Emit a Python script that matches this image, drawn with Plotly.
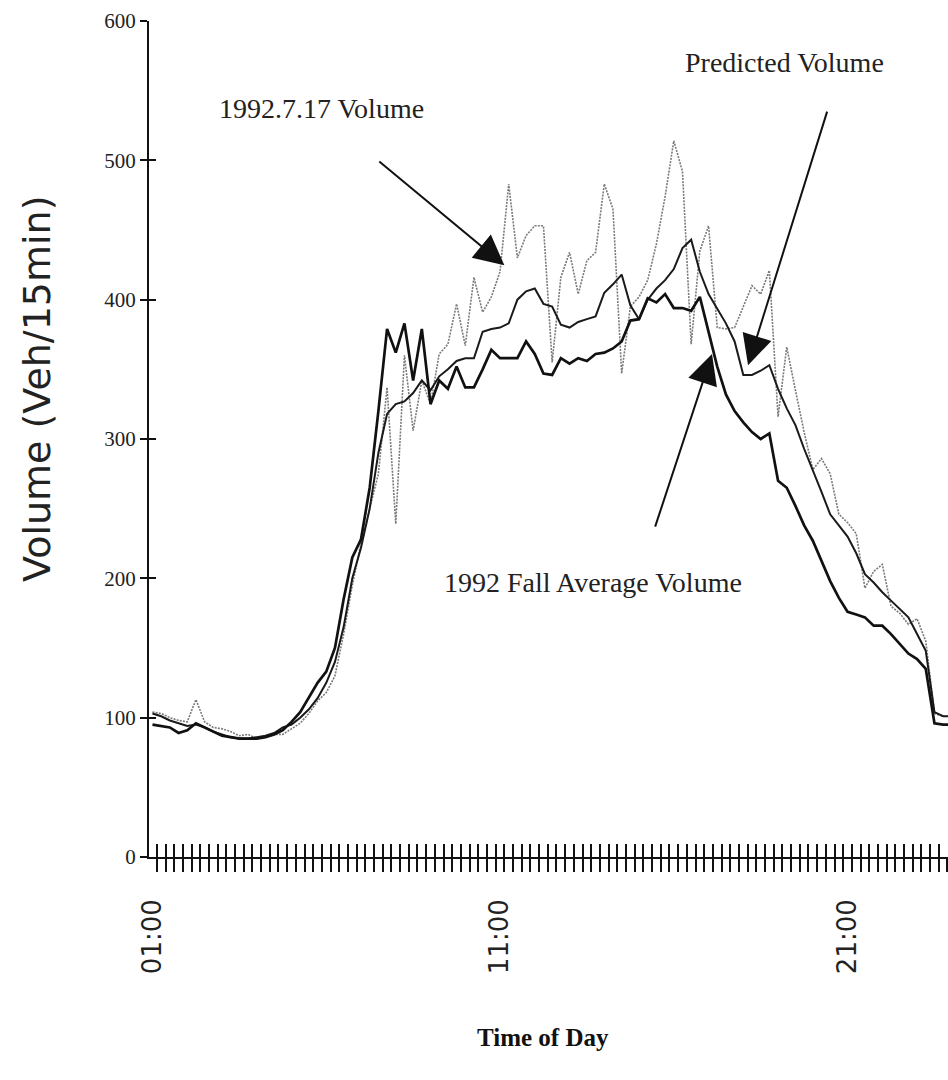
import plotly.graph_objects as go

# 15-minute intervals from 01:00 to 24:00 (index 0..92)
n_points = 93
idx = list(range(n_points))
tick_label_pos = [0, 40, 80]
tick_labels = ["01:00", "11:00", "21:00"]

# 1992.7.17 observed volume (dotted grey)
obs_0717 = [104, 103, 100, 98, 97, 113, 97, 93, 92, 90,
            87, 88, 85, 86, 88, 88, 92, 96, 103, 112,
            118, 130, 160, 195, 225, 250, 275, 337, 239, 360,
            306, 342, 325, 361, 368, 397, 367, 416, 391, 402,
            420, 483, 430, 446, 453, 453, 355, 416, 434, 404,
            428, 434, 483, 465, 347, 395, 402, 414, 440, 474,
            514, 492, 368, 435, 453, 380, 379, 380, 395, 410,
            404, 421, 316, 366, 335, 305, 278, 286, 275, 246,
            240, 232, 193, 205, 210, 180, 175, 167, 171, 155,
            103, 101, 101]

# Predicted volume (thin solid)
predicted = [103, 101, 98, 96, 94, 95, 93, 90, 88, 86,
             85, 85, 86, 87, 89, 93, 95, 100, 106, 114,
             125, 140, 165, 200, 222, 250, 290, 318, 325, 327,
             333, 342, 335, 345, 350, 356, 358, 358, 377, 379,
             380, 383, 400, 406, 408, 397, 395, 382, 380, 384,
             386, 388, 405, 411, 418, 396, 386, 400, 408, 414,
             422, 437, 443, 420, 404, 393, 383, 370, 346, 346,
             349, 353, 336, 322, 310, 293, 278, 262, 246, 238,
             230, 218, 203, 197, 190, 184, 178, 172, 160, 148,
             104, 101, 101]

# 1992 fall average volume (thick solid)
fall_avg = [95, 94, 93, 89, 91, 96, 93, 90, 87, 86,
            85, 85, 85, 86, 88, 91, 97, 104, 115, 125,
            133, 150, 185, 215, 228, 265, 320, 379, 362, 383,
            342, 379, 325, 342, 336, 352, 337, 337, 350, 364,
            358, 358, 358, 370, 361, 347, 346, 358, 354, 358,
            356, 361, 362, 365, 370, 385, 386, 401, 398, 404,
            394, 394, 392, 402, 378, 352, 332, 320, 312, 305,
            300, 304, 270, 265, 252, 238, 227, 212, 198, 186,
            176, 174, 172, 166, 166, 160, 153, 146, 142, 135,
            96, 95, 95]

y_ticks = [0, 100, 200, 300, 400, 500, 600]
minor_ticks = [i + 0.5 for i in range(0, 92)]

XR = [-0.4, 91.56]
YR = [0, 600]

fig = go.Figure()
fig.add_trace(go.Scatter(x=idx, y=obs_0717, mode="lines",
                         line=dict(color="#7a7a7a", width=1.6, dash="2px,1.2px"),
                         name="1992.7.17 Volume"))
fig.add_trace(go.Scatter(x=idx, y=predicted, mode="lines",
                         line=dict(color="#1a1a1a", width=2.0),
                         name="Predicted Volume"))
fig.add_trace(go.Scatter(x=idx, y=fall_avg, mode="lines",
                         line=dict(color="#111111", width=2.7),
                         name="1992 Fall Average Volume"))
# helper traces so the overlay axes (crossing ticks / labels) are drawn
fig.add_trace(go.Scatter(x=idx[:1], y=fall_avg[:1], xaxis="x2", yaxis="y",
                         mode="lines", hoverinfo="skip", showlegend=False))
fig.add_trace(go.Scatter(x=idx[:1], y=fall_avg[:1], xaxis="x3", yaxis="y",
                         mode="lines", hoverinfo="skip", showlegend=False))
fig.add_trace(go.Scatter(x=idx[:1], y=fall_avg[:1], xaxis="x", yaxis="y2",
                         mode="lines", hoverinfo="skip", showlegend=False))

serif = "Liberation Serif"
sans = "DejaVu Sans"

fig.update_layout(
    width=948, height=1080,
    margin=dict(l=149.3, r=0, t=20.8, b=223.4),
    paper_bgcolor="white", plot_bgcolor="white",
    showlegend=False,
    xaxis=dict(range=XR, tickmode="array", tickvals=minor_ticks,
               ticktext=[""] * len(minor_ticks), ticks="outside",
               ticklen=13, tickwidth=2, tickcolor="#111",
               showline=True, linecolor="#111", linewidth=2,
               showgrid=False, zeroline=False),
    xaxis2=dict(range=XR, overlaying="x", anchor="y", side="bottom",
                tickmode="array", tickvals=minor_ticks, ticks="inside",
                ticklen=13, tickwidth=2, tickcolor="#111",
                showticklabels=False, showline=False, showgrid=False,
                zeroline=False),
    xaxis3=dict(range=XR, overlaying="x", anchor="y", side="bottom",
                tickmode="array", tickvals=tick_label_pos, ticktext=tick_labels,
                ticks="", tickangle=-90, ticklabelstandoff=36,
                tickfont=dict(family=sans, size=26, color="#222"),
                showline=False, showgrid=False, zeroline=False),
    yaxis=dict(range=YR, tickmode="array", tickvals=y_ticks,
               ticks="outside", ticklen=7, tickwidth=2, tickcolor="#111",
               tickfont=dict(family=serif, size=21, color="#222"),
               showline=True, linecolor="#111", linewidth=2,
               showgrid=False, zeroline=False),
    yaxis2=dict(range=YR, overlaying="y", anchor="x", side="left",
                tickmode="array", tickvals=y_ticks, ticks="inside",
                ticklen=7, tickwidth=2, tickcolor="#111",
                showticklabels=False, showline=False, showgrid=False,
                zeroline=False),
)

ann_font = dict(family=serif, size=28, color="#222")
arrow_style = dict(showarrow=True, arrowhead=2, arrowsize=3, arrowwidth=2,
                   arrowcolor="#111", axref="x", ayref="y", xref="x", yref="y",
                   text="")
annotations = [
    dict(x=40.5, y=424.7, ax=25.93, ay=500, **arrow_style),
    dict(x=68.55, y=353, ax=77.7, ay=536, **arrow_style),
    dict(x=64.4, y=361, ax=57.8, ay=236, **arrow_style),
    dict(x=19.5, y=537, xref="x", yref="y", text="1992.7.17 Volume",
         showarrow=False, font=ann_font, xanchor="center", yanchor="middle"),
    dict(x=72.7, y=570.5, xref="x", yref="y", text="Predicted Volume",
         showarrow=False, font=ann_font, xanchor="center", yanchor="middle"),
    dict(x=50.7, y=197, xref="x", yref="y", text="1992 Fall Average Volume",
         showarrow=False, font=ann_font, xanchor="center", yanchor="middle"),
    dict(x=-0.1394, y=0.5595, xref="paper", yref="paper",
         text="Volume (Veh/15min)", textangle=-90, showarrow=False,
         xanchor="center", yanchor="middle",
         font=dict(family=sans, size=38, color="#222")),
    dict(x=0.493, y=-0.2158, xref="paper", yref="paper",
         text="<b>Time of Day</b>", showarrow=False,
         xanchor="center", yanchor="middle",
         font=dict(family=serif, size=25, color="#111")),
]
fig.update_layout(annotations=annotations)

fig.write_html("out.html")
